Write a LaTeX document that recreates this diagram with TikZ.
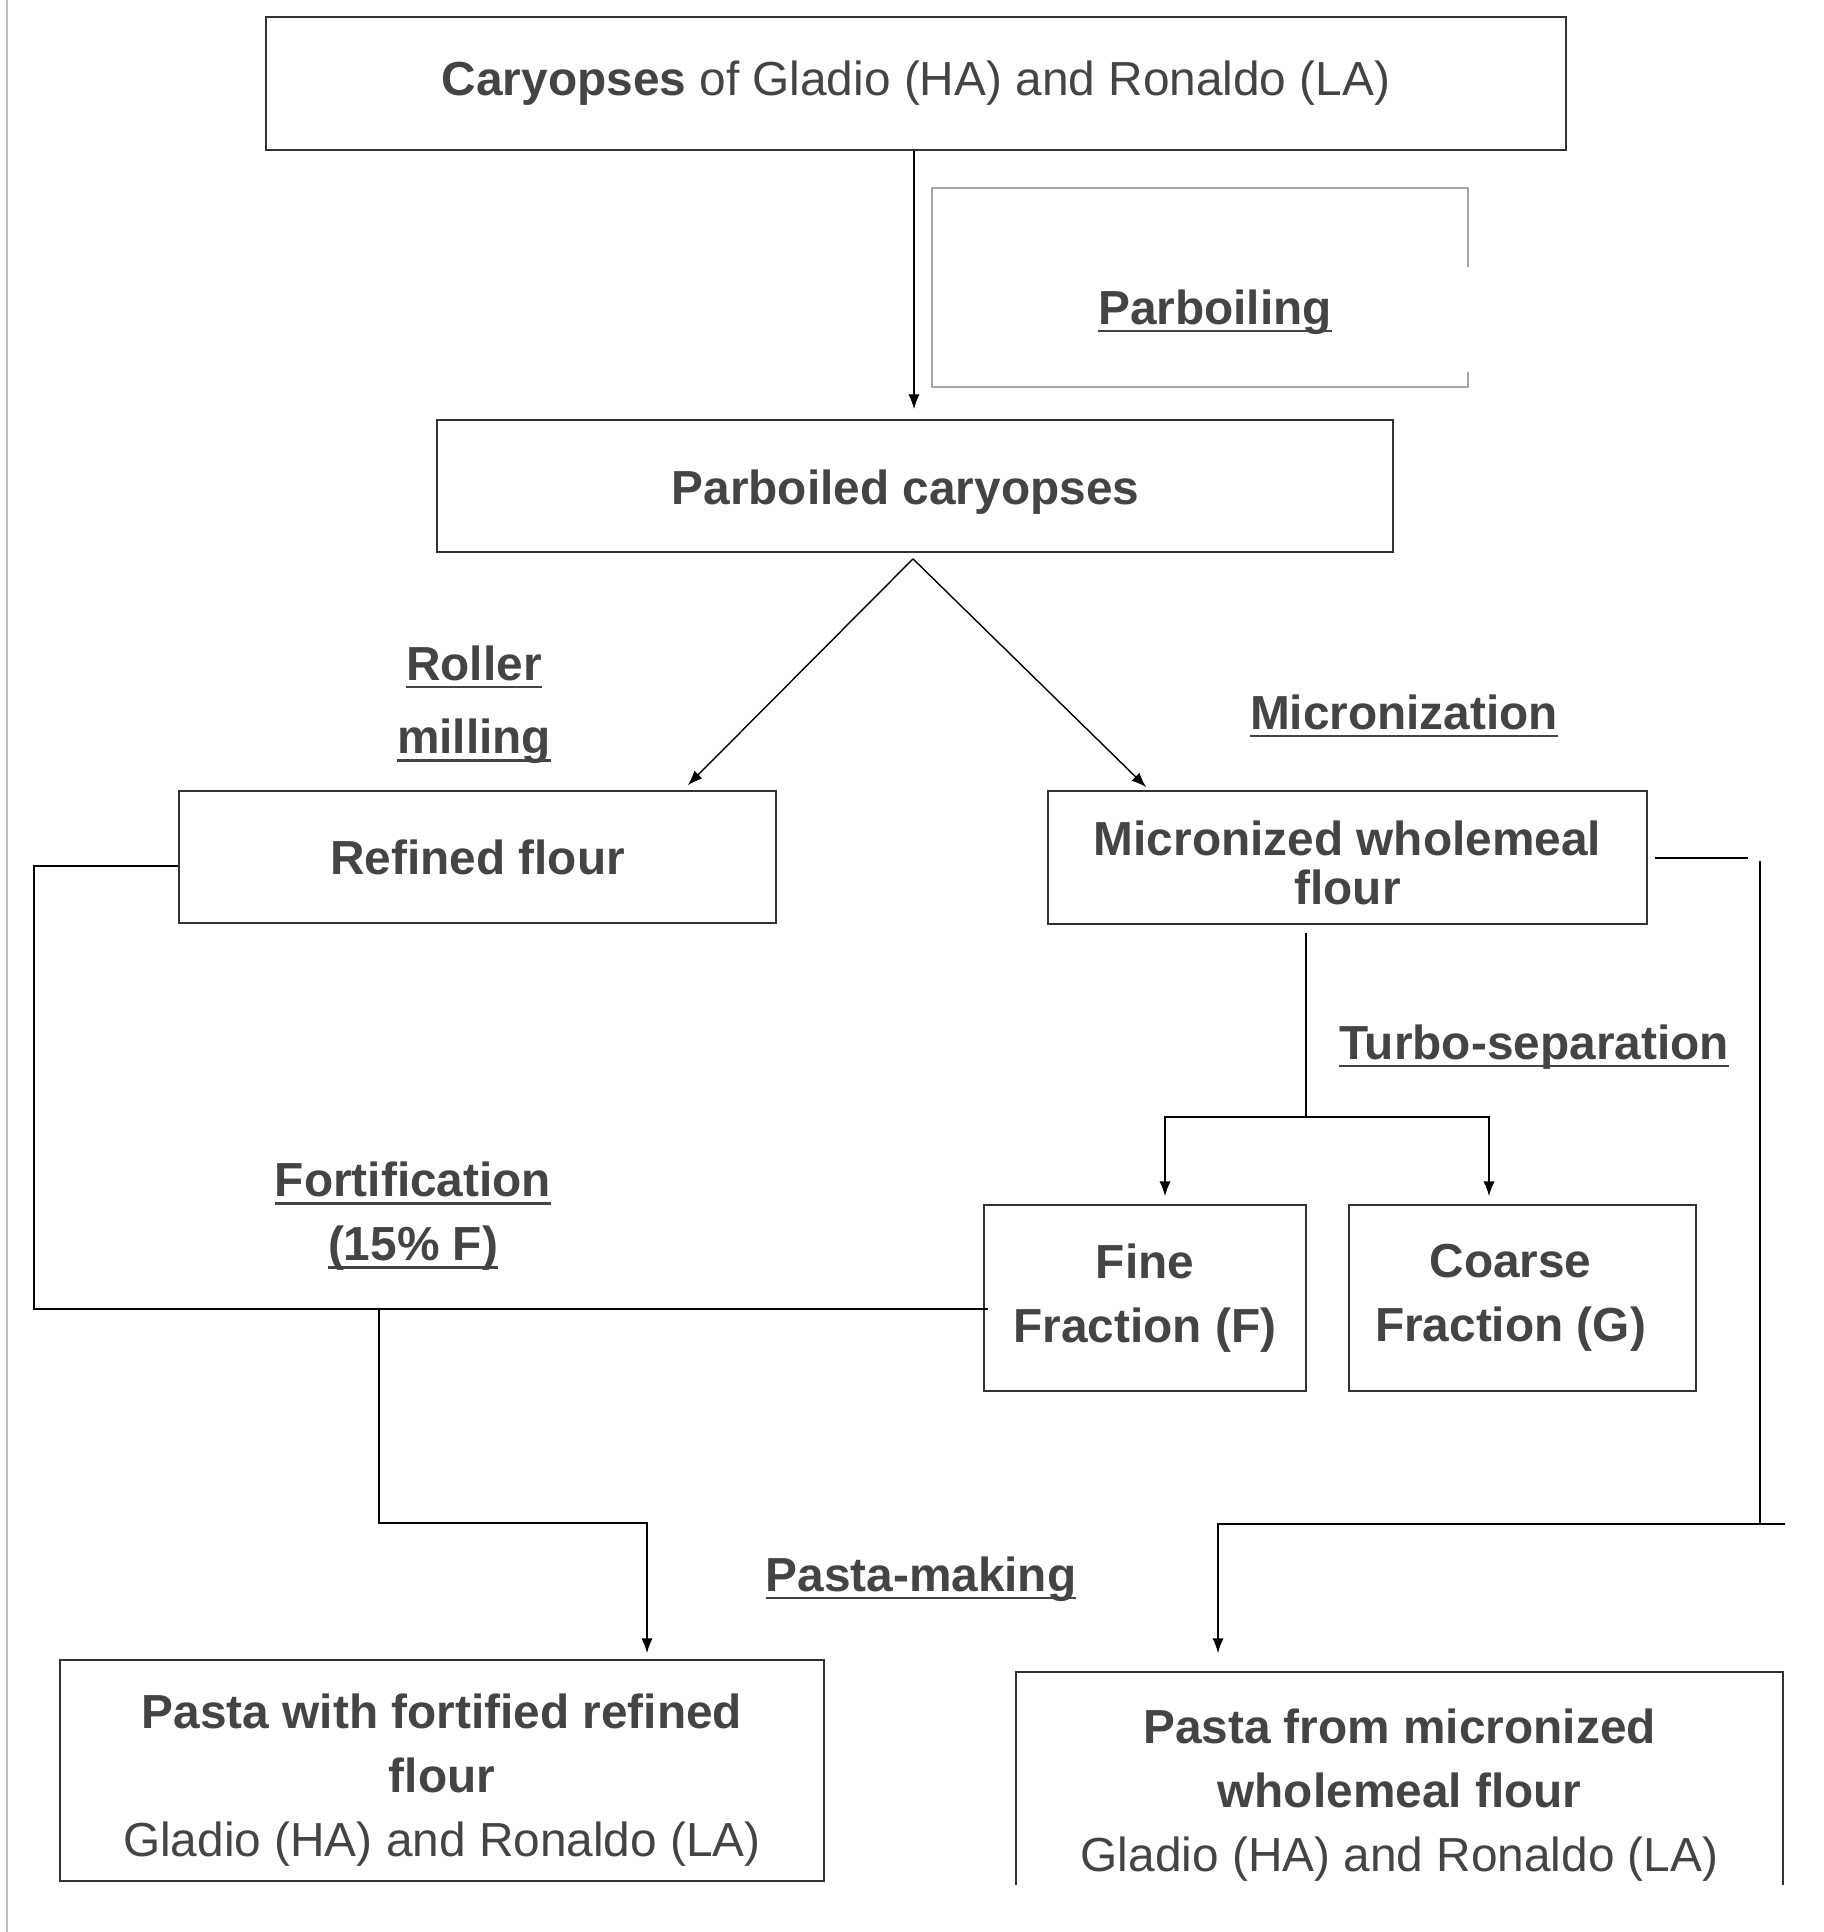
\documentclass[tikz,border=0pt]{standalone}
\usepackage{fontspec}
\setmainfont{Liberation Sans}
\usetikzlibrary{arrows.meta,calc,positioning}
\definecolor{ink}{HTML}{444444}
\newcommand{\stdsize}{\fontsize{13.6pt}{18.2pt}\selectfont}
\newcommand{\ulbf}[1]{\setbox0\hbox{\bfseries #1}\rlap{\rule[-2.2pt]{\wd0}{0.7pt}}\box0}

\begin{document}
\begin{tikzpicture}[%
box/.style = {draw=black!80, line width=0.5pt, text=ink, font=\stdsize\bfseries, align=center, inner sep=0pt},
proc/.style = {text=ink, font=\stdsize, align=center, inner sep=0pt},
link/.style = {line width=0.4pt},
flow/.style = {link, -{Latex[length=4.2pt,width=3.2pt]}}]
\useasboundingbox (0,0) rectangle (18.23,-19.32);
\draw[black!25, line width=0.6pt] (0.07,0) -- (0.07,-19.32);

\node[box, minimum width=13cm, minimum height=1.33cm] (caryo) at (9.16,-0.835) {Caryopses \mdseries of Gladio (HA) and Ronaldo (LA)};
\node[box, minimum width=9.56cm, minimum height=1.32cm, text height=0.38cm, text depth=0pt] (parb) at (9.15,-4.86) {\hspace*{-0.19cm}Parboiled caryopses};
\node[box, minimum width=5.97cm, minimum height=1.32cm] (refined) at (4.775,-8.57) {Refined flour};
\node[box, minimum width=5.99cm, minimum height=1.33cm, text height=0.93cm, text depth=0pt, font=\fontsize{13.6pt}{13.7pt}\selectfont\bfseries] (micron) at (13.475,-8.575) {Micronized wholemeal\\flour};
\node[box, minimum width=3.22cm, minimum height=1.86cm] (fine) at (11.45,-12.98) {Fine\\Fraction (F)};
\node[box, minimum width=3.47cm, minimum height=1.86cm] (coarse) at (15.225,-12.98) {\hspace*{-0.24cm}Coarse\\\hspace*{-0.24cm}Fraction (G)};
\node[box, minimum width=7.64cm, minimum height=2.21cm, text height=1.71cm, text depth=0pt] (pastaR) at (4.42,-17.705) {Pasta with fortified refined\\flour\\\mdseries Gladio (HA) and Ronaldo (LA)};
\node[box, draw=none, minimum width=7.65cm, minimum height=2.44cm] (pastaM) at (13.995,-17.95) {Pasta from micronized\\wholemeal flour\\\mdseries Gladio (HA) and Ronaldo (LA)};
\draw[black!80, line width=0.5pt] ($(pastaM.north west)+(0,-2.13)$) -- (pastaM.north west) -- (pastaM.north east) -- ++(0,-2.13);

\draw[black!35, line width=0.5pt] (14.68,-2.67) -- (14.68,-1.88) -- (9.32,-1.88) -- (9.32,-3.87) -- (14.68,-3.87) -- (14.68,-3.72);
\node[proc] (parboil) at (12.15,-3.12) {\ulbf{Parboiling}};
\node[proc, font=\fontsize{13.6pt}{20.8pt}\selectfont] (roller) at (4.74,-7.05) {\ulbf{Roller}\\\ulbf{milling}};
\node[proc] (microlab) at (14.04,-7.16) {\ulbf{Micronization}};
\node[proc] (turbo) at (15.34,-10.47) {\ulbf{Turbo-separation}};
\node[proc] (fortif) at (4.13,-12.165) {\ulbf{Fortification}\\\ulbf{(15\% F)}};
\node[proc] (pastamk) at (9.21,-15.79) {\ulbf{Pasta-making}};

\draw[flow, shorten >=0.1cm] ([xshift=-0.02cm]caryo.south) -- ([xshift=-0.02cm]caryo.south |- parb.north);
\coordinate (apex) at ($(parb.south)+(-0.02,-0.06)$);
\draw[flow] (apex) -- ($(refined.north east)+(-0.89,0.05)$);
\draw[flow] (apex) -- ($(micron.north west)+(0.99,0.03)$);

\coordinate (split) at (13.06,-11.17);
\draw[link] ([yshift=-0.08cm]micron.south -| split) -- (split);
\draw[flow, shorten >=0.08cm] (split) -| ([xshift=0.2cm]fine.north);
\draw[flow, shorten >=0.08cm] (split) -| ([xshift=-0.335cm]coarse.north);

\coordinate (fortjoin) at (3.79,-13.09);
\draw[link] ([yshift=-0.09cm]refined.west) -| (0.34,-13.09) -- ([xshift=0.05cm]fine.west |- fortjoin);
\draw[flow, shorten >=0.06cm] (fortjoin) |- ($(pastaR.north)+(2.05,1.36)$) -- ($(pastaR.north)+(2.05,0)$);

\coordinate (wholejoin) at (17.60,-15.24);
\draw[link] ([xshift=0.07cm,yshift=-0.005cm]micron.east) -- ++(0.93,0);
\draw[link] (17.60,-8.61) -- (wholejoin);
\draw[flow, shorten >=0.19cm] (17.85,-15.24) -| ($(pastaM.north)+(-1.815,0)$);
\end{tikzpicture}
\end{document}
